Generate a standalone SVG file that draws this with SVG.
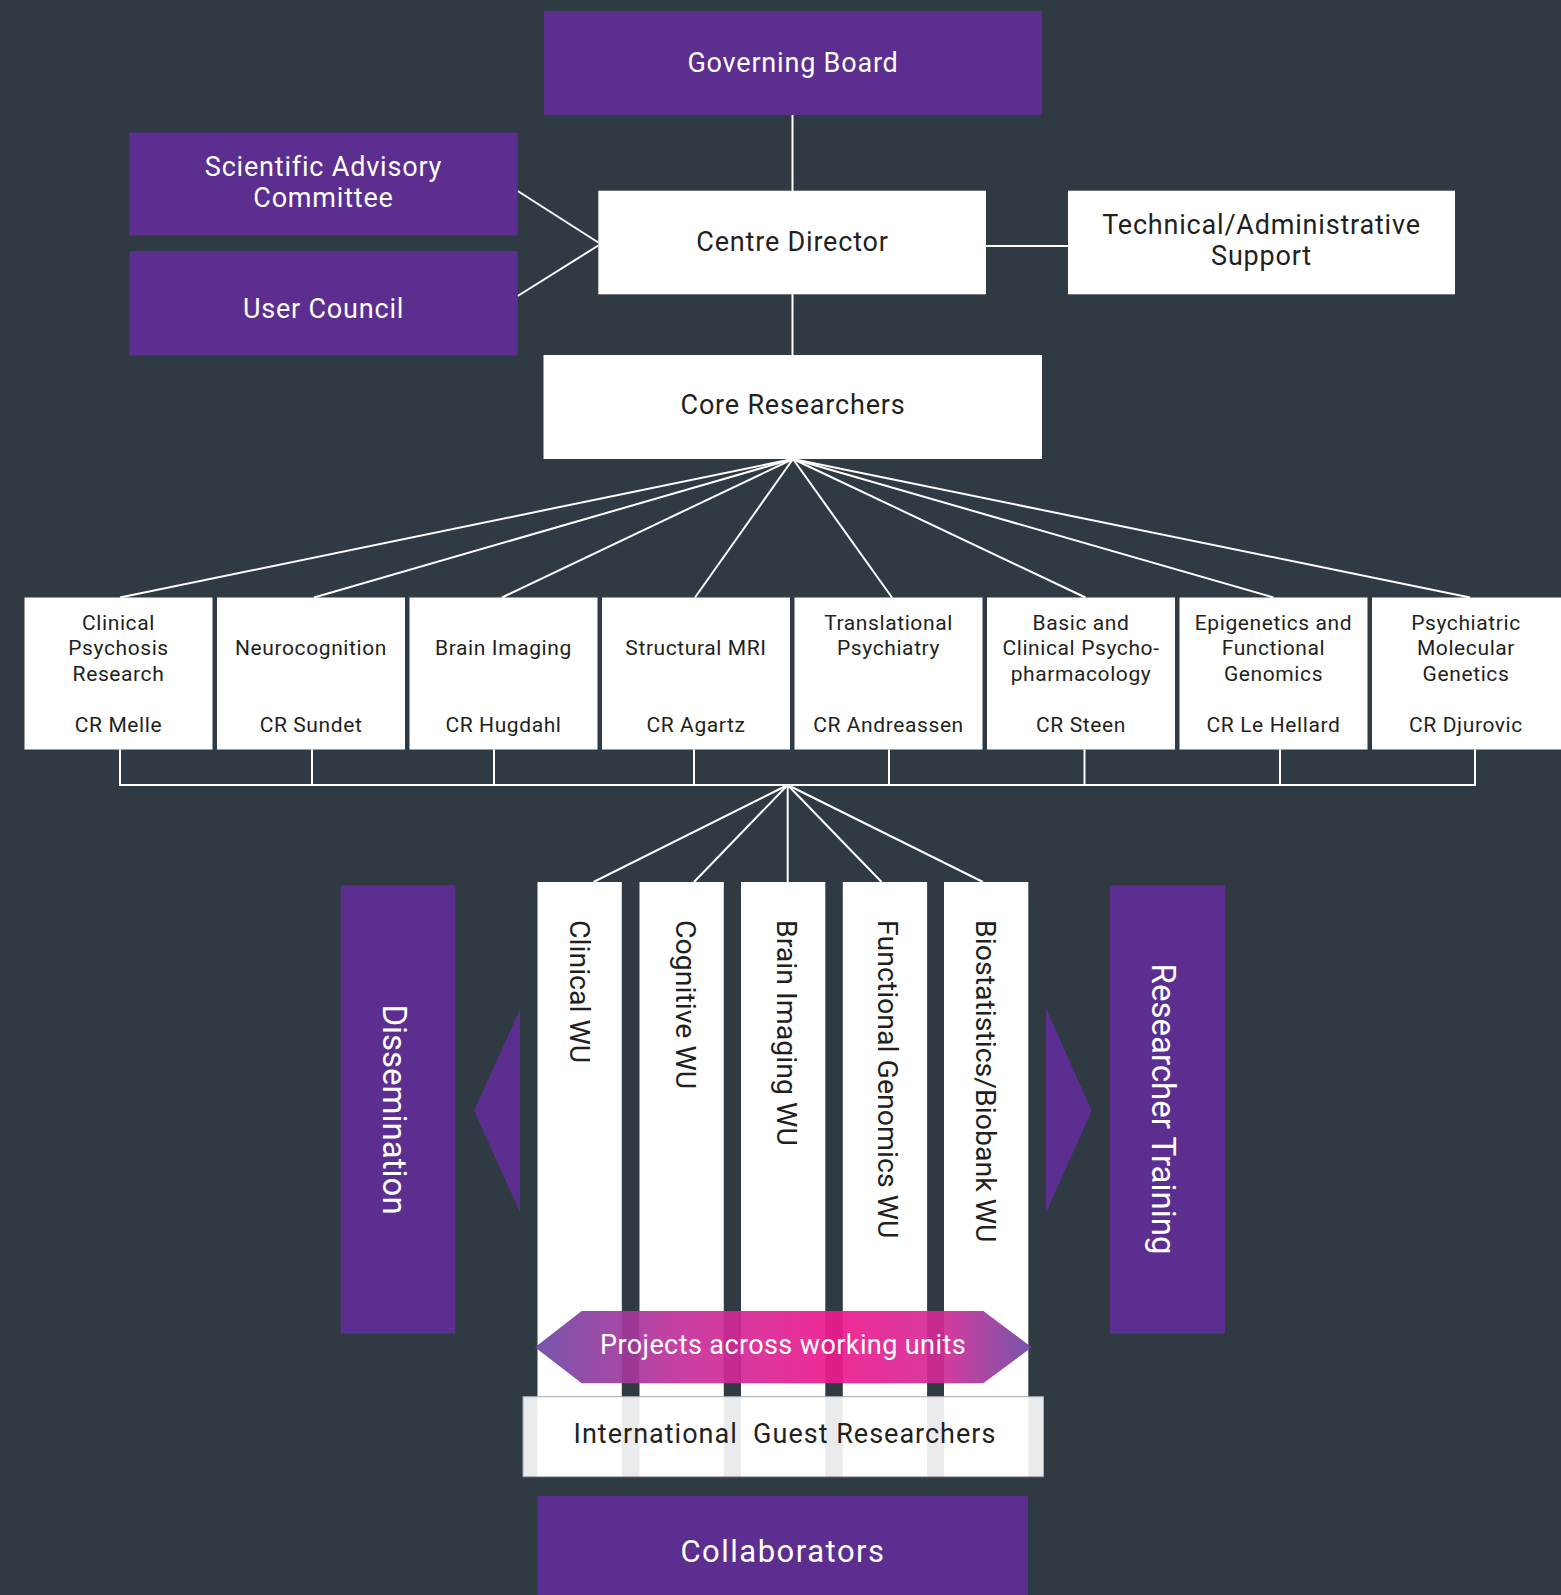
<svg xmlns="http://www.w3.org/2000/svg" width="1561" height="1595" viewBox="0 0 1561 1595">
<defs>
<style>
text{font-family:Roboto,"Liberation Sans",sans-serif}
.purple{fill:#5b2e8f}
.white{fill:#ffffff}
.lt{fill:#ffffff;font-size:27px;letter-spacing:0.8px;text-anchor:middle}
.dt{fill:#231f20;font-size:27px;letter-spacing:0.8px;text-anchor:middle}
.rt{fill:#231f20;font-size:21px;letter-spacing:0.6px;text-anchor:middle}
.wu{fill:#231f20;font-size:28.5px}
.side{fill:#ffffff;font-size:33px;text-anchor:middle}
.conn{stroke:#ffffff;stroke-width:2;fill:none}
</style>
<linearGradient id="projGrad" x1="0" y1="0" x2="1" y2="0">
<stop offset="0" stop-color="#6a47a3"/>
<stop offset="0.3" stop-color="#c52f9b"/>
<stop offset="0.6" stop-color="#ee1a8e"/>
<stop offset="0.82" stop-color="#d32a96"/>
<stop offset="1" stop-color="#6a47a3"/>
</linearGradient>
</defs>
<rect x="0" y="0" width="1561" height="1595" fill="#303a42"/>

<g id="connectors">
<line class="conn" x1="792.5" y1="115" x2="792.5" y2="191"/>
<line class="conn" x1="792.5" y1="294" x2="792.5" y2="355"/>
<line class="conn" x1="517.7" y1="191" x2="598.3" y2="242.5"/>
<line class="conn" x1="517.7" y1="296" x2="598.3" y2="245.5"/>
<line class="conn" stroke-width="3" x1="986" y1="246" x2="1068" y2="246"/>
<line class="conn" x1="793" y1="459" x2="120" y2="597.5"/>
<line class="conn" x1="793" y1="459" x2="314" y2="597.5"/>
<line class="conn" x1="793" y1="459" x2="502" y2="597.5"/>
<line class="conn" x1="793" y1="459" x2="695" y2="597.5"/>
<line class="conn" x1="793" y1="459" x2="892" y2="597.5"/>
<line class="conn" x1="793" y1="459" x2="1085.5" y2="597.5"/>
<line class="conn" x1="793" y1="459" x2="1273.5" y2="597.5"/>
<line class="conn" x1="793" y1="459" x2="1470" y2="597.5"/>
<polyline class="conn" points="120,749.5 120,785 1475,785 1475,749.5"/>
<line class="conn" x1="312" y1="749.5" x2="312" y2="785"/>
<line class="conn" x1="494" y1="749.5" x2="494" y2="785"/>
<line class="conn" x1="694" y1="749.5" x2="694" y2="785"/>
<line class="conn" x1="889" y1="749.5" x2="889" y2="785"/>
<line class="conn" x1="1084.5" y1="749.5" x2="1084.5" y2="785"/>
<line class="conn" x1="1280" y1="749.5" x2="1280" y2="785"/>
<line class="conn" x1="787.7" y1="785" x2="593.5" y2="882"/>
<line class="conn" x1="787.7" y1="785" x2="694" y2="882"/>
<line class="conn" x1="787.7" y1="785" x2="787.7" y2="882"/>
<line class="conn" x1="787.7" y1="785" x2="881.6" y2="882"/>
<line class="conn" x1="787.7" y1="785" x2="983" y2="882"/>
</g>

<g id="governing-board">
<rect class="purple" x="544" y="11" width="498" height="104"/>
<text class="lt" x="793" y="72">Governing Board</text>
</g>
<g id="scientific-advisory-committee">
<rect class="purple" x="129.5" y="132.5" width="388.2" height="103.2"/>
<text class="lt" x="323.5" y="175.5">Scientific Advisory</text>
<text class="lt" x="323.5" y="206.5">Committee</text>
</g>
<g id="user-council">
<rect class="purple" x="129.5" y="251" width="388.2" height="104.7"/>
<text class="lt" x="323.5" y="317.5">User Council</text>
</g>
<g id="centre-director">
<rect class="white" x="598.3" y="190.7" width="387.7" height="103.6"/>
<text class="dt" x="792.5" y="250.5">Centre Director</text>
</g>
<g id="technical-administrative-support">
<rect class="white" x="1068" y="190.7" width="387" height="103.6"/>
<text class="dt" x="1261.5" y="233.5">Technical/Administrative</text>
<text class="dt" x="1261.5" y="264.5">Support</text>
</g>
<g id="core-researchers">
<rect class="white" x="543.5" y="355" width="498.5" height="104"/>
<text class="dt" x="793" y="413.5">Core Researchers</text>
</g>

<g id="cr-melle">
<rect class="white" x="24.5" y="597.5" width="188" height="152"/>
<text class="rt" x="118.5" y="630">Clinical</text>
<text class="rt" x="118.5" y="655.3">Psychosis</text>
<text class="rt" x="118.5" y="680.7">Research</text>
<text class="rt" x="118.5" y="731.7">CR Melle</text>
</g>
<g id="cr-sundet">
<rect class="white" x="217" y="597.5" width="188" height="152"/>
<text class="rt" x="311" y="655.3">Neurocognition</text>
<text class="rt" x="311" y="731.7">CR Sundet</text>
</g>
<g id="cr-hugdahl">
<rect class="white" x="409.5" y="597.5" width="188" height="152"/>
<text class="rt" x="503.5" y="655.3">Brain Imaging</text>
<text class="rt" x="503.5" y="731.7">CR Hugdahl</text>
</g>
<g id="cr-agartz">
<rect class="white" x="602" y="597.5" width="188" height="152"/>
<text class="rt" x="696" y="655.3">Structural MRI</text>
<text class="rt" x="696" y="731.7">CR Agartz</text>
</g>
<g id="cr-andreassen">
<rect class="white" x="794.5" y="597.5" width="188" height="152"/>
<text class="rt" x="888.5" y="630">Translational</text>
<text class="rt" x="888.5" y="655.3">Psychiatry</text>
<text class="rt" x="888.5" y="731.7">CR Andreassen</text>
</g>
<g id="cr-steen">
<rect class="white" x="987" y="597.5" width="188" height="152"/>
<text class="rt" x="1081" y="630">Basic and</text>
<text class="rt" x="1081" y="655.3">Clinical Psycho-</text>
<text class="rt" x="1081" y="680.7">pharmacology</text>
<text class="rt" x="1081" y="731.7">CR Steen</text>
</g>
<g id="cr-le-hellard">
<rect class="white" x="1179.5" y="597.5" width="188" height="152"/>
<text class="rt" x="1273.5" y="630">Epigenetics and</text>
<text class="rt" x="1273.5" y="655.3">Functional</text>
<text class="rt" x="1273.5" y="680.7">Genomics</text>
<text class="rt" x="1273.5" y="731.7">CR Le Hellard</text>
</g>
<g id="cr-djurovic">
<rect class="white" x="1372" y="597.5" width="189" height="152"/>
<text class="rt" x="1466" y="630">Psychiatric</text>
<text class="rt" x="1466" y="655.3">Molecular</text>
<text class="rt" x="1466" y="680.7">Genetics</text>
<text class="rt" x="1466" y="731.7">CR Djurovic</text>
</g>

<g id="dissemination">
<rect class="purple" x="340.7" y="885.3" width="114.6" height="448.4"/>
<text class="side" transform="translate(383,1109.5) rotate(90)">Dissemination</text>
<polygon class="purple" points="520,1009.3 520,1212.3 474,1110.7"/>
</g>
<g id="researcher-training">
<rect class="purple" x="1110" y="885.3" width="115" height="448.4"/>
<text class="side" transform="translate(1152,1109) rotate(90)">Researcher Training</text>
<polygon class="purple" points="1046,1008.3 1046,1212.7 1091.7,1110.7"/>
</g>

<g id="clinical-wu">
<rect class="white" x="537.5" y="882" width="84.3" height="595"/>
<text class="wu" transform="translate(570,920) rotate(90)">Clinical WU</text>
</g>
<g id="cognitive-wu">
<rect class="white" x="639.5" y="882" width="84.3" height="595"/>
<text class="wu" transform="translate(675.7,920) rotate(90)">Cognitive WU</text>
</g>
<g id="brain-imaging-wu">
<rect class="white" x="741" y="882" width="84.3" height="595"/>
<text class="wu" transform="translate(776.5,920) rotate(90)">Brain Imaging WU</text>
</g>
<g id="functional-genomics-wu">
<rect class="white" x="842.8" y="882" width="84.3" height="595"/>
<text class="wu" transform="translate(877.5,920) rotate(90)">Functional Genomics WU</text>
</g>
<g id="biostatistics-biobank-wu">
<rect class="white" x="944" y="882" width="84.3" height="595"/>
<text class="wu" transform="translate(975.5,920) rotate(90)">Biostatistics/Biobank WU</text>
</g>

<g id="projects-across-working-units">
<polygon points="535,1347.3 581.7,1311 983.3,1311 1031.7,1347.3 983.3,1383.3 581.7,1383.3" fill="url(#projGrad)" fill-opacity="0.92"/>
<text x="783" y="1354.3" fill="#ffffff" font-size="27" letter-spacing="0.4" text-anchor="middle">Projects across working units</text>
</g>

<g id="international-guest-researchers">
<rect x="523" y="1396.7" width="520.5" height="80" fill="#ffffff" fill-opacity="0.9" stroke="#a8abad" stroke-width="1"/>
<text x="785" y="1443.3" fill="#231f20" font-size="27" letter-spacing="1" text-anchor="middle" style="white-space:pre">International  Guest Researchers</text>
</g>

<g id="collaborators">
<rect class="purple" x="537.7" y="1496" width="490.3" height="99"/>
<text x="783" y="1561.5" fill="#ffffff" font-size="31" letter-spacing="1.5" text-anchor="middle">Collaborators</text>
</g>
</svg>
